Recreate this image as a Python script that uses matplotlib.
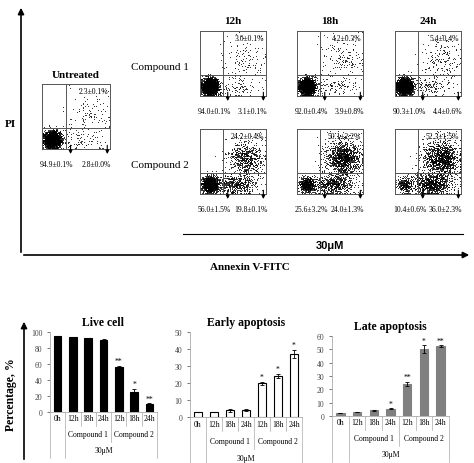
import numpy as np
import matplotlib.pyplot as plt
from matplotlib.patches import FancyArrowPatch
import matplotlib.transforms as mtrans

plt.rcParams['font.family'] = ['Liberation Serif', 'DejaVu Serif']

W, H = 474, 464

# quadrant percentages: (live, early, late)
untreated_q = ("94.9±0.1%", "2.8±0.0%", "2.3±0.1%")
comp1_q = [("94.0±0.1%", "3.1±0.1%", "3.0±0.1%"),
           ("92.0±0.4%", "3.9±0.8%", "4.2±0.3%"),
           ("90.3±1.0%", "4.4±0.6%", "5.4±0.4%")]
comp2_q = [("56.0±1.5%", "19.8±0.1%", "24.2±0.4%"),
           ("25.6±3.2%", "24.0±1.3%", "50.1±2.2%"),
           ("10.4±0.6%", "36.0±2.3%", "52.3±1.5%")]
times = ["12h", "18h", "24h"]

# bar chart data
groups = ["0h", "12h", "18h", "24h", "12h", "18h", "24h"]
live = [94.9, 94.0, 92.0, 90.3, 56.0, 25.6, 10.4]
live_err = [0.1, 0.1, 0.4, 1.0, 1.5, 3.2, 0.6]
live_sig = ["", "", "", "", "**", "*", "**"]
early = [2.8, 3.1, 3.9, 4.4, 19.8, 24.0, 37.0]
early_err = [0.1, 0.1, 0.8, 0.6, 0.8, 1.3, 2.3]
early_sig = ["", "", "", "", "*", "*", "*"]
late = [2.3, 3.0, 4.2, 5.4, 24.2, 50.1, 52.3]
late_err = [0.1, 0.1, 0.3, 0.4, 1.4, 3.0, 0.6]
late_sig = ["", "", "", "*", "**", "*", "**"]

fig = plt.figure(figsize=(W / 100, H / 100), dpi=100)


def px_axes(x0, y0, x1, y1):
    return fig.add_axes([x0 / W, 1 - y1 / H, (x1 - x0) / W, (y1 - y0) / H])


def ftext(x, y, s, **kw):
    fig.text(x / W, 1 - y / H, s, **kw)


def farrow(x0, y0, x1, y1):
    fig.patches.append(FancyArrowPatch((x0 / W, 1 - y0 / H), (x1 / W, 1 - y1 / H),
                                       transform=fig.transFigure, arrowstyle='-|>',
                                       mutation_scale=9, color='black', lw=1.2))


rng = np.random.default_rng(3)


def dot_plot(x0, y0, x1, y1, q):
    ax = px_axes(x0, y0, x1, y1)
    n = 2500
    fr = [float(s.split("±")[0]) / 100 for s in q]
    n_live, n_early, n_late = (int(n * f) for f in fr)
    pts = [rng.normal([0.15, 0.15], [0.06, 0.06], (n_live, 2)),
           rng.normal([0.55, 0.15], [0.15, 0.08], (n_early, 2)),
           rng.normal([0.7, 0.55], [0.13, 0.13], (n_late, 2)),
           rng.uniform([0.3, 0.0], [1.0, 1.0], (60, 2))]
    p = np.clip(np.vstack(pts), 0.01, 0.99)
    ax.scatter(p[:, 0], p[:, 1], s=0.35, c='black', lw=0)
    ax.axvline(0.35, color='#555', lw=0.7)
    ax.axhline(0.33, color='#555', lw=0.7)
    ax.set_xlim(0, 1)
    ax.set_ylim(0, 1)
    ax.set_xticks([])
    ax.set_yticks([])
    for s in ax.spines.values():
        s.set_color('#555')
        s.set_linewidth(0.7)
    ax.text(0.97, 0.95, q[2], transform=ax.transAxes, ha='right', va='top', fontsize=5.5)
    for xa in (0.42, 0.96):
        ax.annotate("", xy=(xa, -0.12), xytext=(xa, 0.1), xycoords='axes fraction',
                    arrowprops=dict(arrowstyle='-|>', color='black', lw=0.8, mutation_scale=5))
    ax.text(0.22, -0.17, q[0], transform=ax.transAxes, ha='center', va='top', fontsize=5.5)
    ax.text(1.02, -0.17, q[1], transform=ax.transAxes, ha='right', va='top', fontsize=5.5)


# top panel frame
farrow(21, 256, 21, 6)
farrow(21, 256, 472, 256)
ftext(10, 125, "PI", fontsize=8, weight='bold', ha='center', va='center')
ftext(250, 268, "Annexin V-FITC", fontsize=8, weight='bold', ha='center', va='center')

dot_plot(42, 85, 110, 150, untreated_q)
ftext(76, 76, "Untreated", fontsize=8, weight='bold', ha='center', va='center')

col_x = [200, 297, 395]
for i, t in enumerate(times):
    ftext(col_x[i] + 33, 22, t, fontsize=8, weight='bold', ha='center', va='center')
    dot_plot(col_x[i], 32, col_x[i] + 66, 97, comp1_q[i])
    dot_plot(col_x[i], 130, col_x[i] + 66, 195, comp2_q[i])
ftext(160, 68, "Compound 1", fontsize=8, ha='center', va='center')
ftext(160, 165, "Compound 2", fontsize=8, ha='center', va='center')
fig.add_artist(plt.Line2D([183 / W, 463 / W], [1 - 235 / H] * 2, color='black', lw=0.8))
ftext(330, 246, "30μM", fontsize=8, weight='bold', family=['Liberation Sans'], ha='center', va='center')

# bar charts
farrow(24, 463, 24, 320)
ftext(11, 395, "Percentage, %", fontsize=8.5, weight='bold', rotation=90, ha='center', va='center')


def bar_chart(box, vals, errs, sigs, title, ymax, step, face, edge):
    ax = px_axes(*box)
    x = np.arange(len(vals))
    ax.bar(x, vals, 0.5, color=face, edgecolor=edge, lw=0.8,
           yerr=errs, error_kw=dict(lw=0.6, capsize=1.5, capthick=0.6))
    for xi, v, e, s in zip(x, vals, errs, sigs):
        if s:
            ax.text(xi, v + e + ymax * 0.01, s, ha='center', va='bottom', fontsize=5.5)
    ax.set_xlim(-0.5, len(vals) - 0.5)
    ax.set_ylim(0, ymax)
    ax.set_yticks(np.arange(0, ymax + 1, step))
    ax.tick_params(axis='y', labelsize=5.5, length=2, width=0.5, colors='#444')
    ax.set_xticks([])
    for k in ('top', 'right'):
        ax.spines[k].set_visible(False)
    for k in ('left', 'bottom'):
        ax.spines[k].set_color('#aaa')
        ax.spines[k].set_linewidth(0.6)
    ax.set_title(title, fontsize=8.5, weight='bold', pad=5)
    tr = mtrans.blended_transform_factory(ax.transData, ax.transAxes)
    rows = [-0.17, -0.38, -0.58]
    for xi, g in enumerate(groups):
        ax.text(xi, -0.08, g, transform=tr, ha='center', va='center', fontsize=5.5)
    ax.text(2, -0.28, "Compound 1", transform=tr, ha='center', va='center', fontsize=5.5)
    ax.text(5, -0.28, "Compound 2", transform=tr, ha='center', va='center', fontsize=5.5)
    ax.text(3, -0.48, "30μM", transform=tr, ha='center', va='center', fontsize=5.5)
    lkw = dict(transform=tr, color='#aaa', lw=0.5, clip_on=False)
    for b in np.arange(-0.5, 7, 1):
        bottom = rows[0]
        if b in (-0.5, 0.5, 6.5):
            bottom = rows[2]
        elif b == 3.5:
            bottom = rows[1]
        ax.plot([b, b], [0, bottom], **lkw)
    return ax


bar_chart((50, 333, 157, 413), live, live_err, live_sig, "Live cell", 100, 20, 'black', 'black')
bar_chart((190, 333, 302, 418), early, early_err, early_sig, "Early apoptosis", 50, 10, 'white', 'black')
bar_chart((332, 337, 449, 417), late, late_err, late_sig, "Late apoptosis", 60, 10, '#808080', '#808080')

fig.savefig("out.png", dpi=100)
